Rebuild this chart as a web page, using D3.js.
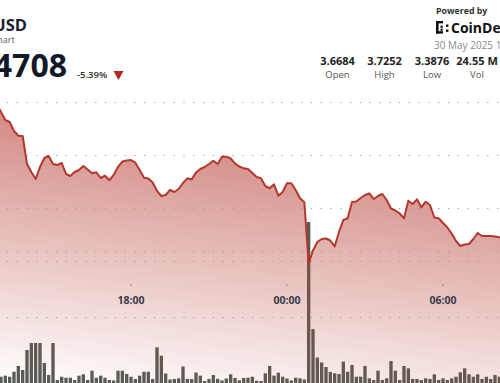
<!DOCTYPE html>
<html><head><meta charset="utf-8">
<script src="https://cdn.jsdelivr.net/npm/d3@7"></script>
<style>
html,body{margin:0;padding:0;background:#fff;overflow:hidden;}
svg{display:block;font-family:"Open Sans","Noto Sans",sans-serif;}
</style></head>
<body>
<svg id="c" width="500" height="383"></svg>
<script>
// ---- data ----
const priceStart = Date.UTC(2025, 4, 29, 12, 50); // first price point (10-min steps)
const volumeStart = Date.UTC(2025, 4, 29, 13, 0);  // first volume bar
const stepMinutes = 10;
const prices = [
3.6962,3.6811,3.6660,3.6623,3.6453,3.6364,3.6358,3.5830,3.5679,3.5547,3.5774,
3.5943,3.5981,3.5830,3.5811,3.5849,3.5642,3.5604,3.5679,3.5717,3.5792,
3.5726,3.5655,3.5674,3.5566,3.5609,3.5523,3.5623,3.5774,3.5877,3.5896,
3.5906,3.5855,3.5717,3.5572,3.5557,3.5481,3.5321,3.5226,3.5245,3.5340,
3.5302,3.5358,3.5472,3.5560,3.5538,3.5670,3.5736,3.5774,3.5830,3.5892,
3.5830,3.5968,3.5968,3.5934,3.5843,3.5783,3.5749,3.5736,3.5660,3.5585,
3.5560,3.5415,3.5372,3.5447,3.5232,3.5302,3.5466,3.5466,3.5340,3.5183,
3.5108,3.3953,3.4198,3.4358,3.4415,3.4425,3.4387,3.4274,3.4547,3.4774,
3.4806,3.5113,3.5123,3.5189,3.5245,3.5277,3.5170,3.5226,3.5264,3.5151,
3.4991,3.4953,3.4896,3.4806,3.5138,3.5075,3.5164,3.5013,3.5119,3.5057,
3.4821,3.4806,3.4717,3.4632,3.4519,3.4377,3.4283,3.4311,3.4321,3.4415,
3.4528,3.4472,3.4472,3.4472,3.4462,3.4447,3.4434];
const volumesK = [
95,111,95,171,258,197,500,606,606,606,
303,121,606,45,95,80,80,45,111,132,
45,186,80,111,80,45,38,186,186,136,
95,61,111,171,171,61,541,414,144,53,
61,71,250,61,61,159,111,30,61,121,
64,38,68,132,76,41,76,80,95,35,
30,147,258,111,156,95,68,38,80,71,
53,2439,818,386,311,242,167,147,136,323,
171,273,95,95,258,71,45,186,45,71,
333,186,45,258,223,61,61,45,71,61,
132,45,71,45,71,95,162,223,132,95,
132,61,95,61,121,95];
const priceTicks = [3.4, 3.5, 3.6, 3.7];
const volumeTicksK = [1000, 2000];
const stats = [["3.6684","Open"],["3.7252","High"],["3.3876","Low"],["24.55 M","Vol"]];

// ---- scales ----
const svg = d3.select("#c");
const x = d3.scaleUtc()
  .domain([Date.UTC(2025,4,29,13,0), Date.UTC(2025,4,30,6,0)])
  .range([1, 443]);
const y = d3.scaleLinear().domain([3.4, 3.7]).range([261, 102]);
const yv = d3.scaleLinear().domain([0, 2000]).range([383, 251]);
const step = stepMinutes * 60000;
const priceData = prices.map((p, i) => ({t: new Date(priceStart + i*step), p}));
const volData = volumesK.map((v, i) => ({t: new Date(volumeStart + i*step), v}));
const pitch = x(new Date(volumeStart + step)) - x(new Date(volumeStart));
const bw = pitch - 1;

// gradient
const defs = svg.append("defs");
const g = defs.append("linearGradient").attr("id","ag")
  .attr("gradientUnits","userSpaceOnUse")
  .attr("x1",250).attr("y1",90).attr("x2",210).attr("y2",410);
g.append("stop").attr("offset",0).attr("stop-color","rgb(182,62,52)").attr("stop-opacity",0.72);
g.append("stop").attr("offset",1).attr("stop-color","rgb(182,62,52)").attr("stop-opacity",0.0);

// volume bars
svg.append("g").selectAll("rect").data(volData).join("rect")
  .attr("x", d => x(d.t) - bw/2)
  .attr("y", d => yv(d.v))
  .attr("width", bw)
  .attr("height", d => yv(0) - yv(d.v))
  .attr("fill", "#575d55");

// area
const area = d3.area().x(d => x(d.t)).y0(383).y1(d => y(d.p));
svg.append("path").datum(priceData).attr("d", area).attr("fill","url(#ag)");

// dotted gridlines
const grid = svg.append("g").attr("stroke","#9c9c9c").attr("stroke-width",1.2).attr("stroke-dasharray","1.2 8.6");
priceTicks.forEach(v => {
  const yy = Math.round(y(v)) + 0.5;
  grid.append("line").attr("x1",7).attr("x2",500).attr("y1",yy).attr("y2",yy);
});
volumeTicksK.forEach(v => {
  const yy = Math.round(yv(v)) + 0.5;
  grid.append("line").attr("x1",7).attr("x2",500).attr("y1",yy).attr("y2",yy);
});

// price line
const line = d3.line().x(d => x(d.t)).y(d => y(d.p));
svg.append("path").datum(priceData).attr("d", line)
  .attr("fill","none").attr("stroke","#b3372c").attr("stroke-width",2).attr("stroke-linejoin","round");

// x axis labels
const ticks = x.ticks(d3.utcHour.every(6)).filter(t => x(t) > 20 && x(t) < 480);
const fmt = d3.utcFormat("%H:%M");
const xa = svg.append("g");
ticks.forEach(t => {
  xa.append("line").attr("x1",x(t)).attr("x2",x(t)).attr("y1",284.5).attr("y2",286)
    .attr("stroke","#777").attr("stroke-width",1);
  xa.append("text").attr("x",x(t)).attr("y",304).attr("text-anchor","middle")
    .attr("font-size",10.5).attr("font-weight",700).attr("fill","#363d4a").text(fmt(t));
});

// header left
svg.append("text").attr("x",27).attr("y",30.5).attr("text-anchor","end")
  .attr("font-size",16.5).attr("font-weight",700).attr("fill","#172033").text("USD");
svg.append("text").attr("x",15).attr("y",42.5).attr("text-anchor","end")
  .attr("font-size",9.5).attr("fill","#5a5f66").text("hart");
svg.append("text").attr("x",67).attr("y",76.5).attr("text-anchor","end")
  .attr("font-size",32).attr("font-weight",700).attr("fill","#111827").text("4708");
svg.append("text").attr("x",77).attr("y",78).attr("font-size",9.5).attr("font-weight",600)
  .attr("fill","#333").text("-5.39%");
svg.append("path").attr("d","M113.5,71 L123.5,71 L118.5,80 Z").attr("fill","#b3261e");

// header right
svg.append("text").attr("x",436).attr("y",13.5).attr("font-size",8.8).attr("font-weight",700)
  .attr("fill","#333").text("Powered by");
const logo = svg.append("g").attr("fill","#111");
[[436,21,2.6,12.6],[436,21,7,2.4],[436,31.2,7,2.4],[440.5,25.6,2.2,2.2],[440.5,28.6,2.2,2.2],[446,24.5,2.4,2.4],[446,29.5,2.4,2.4]]
  .forEach(r => logo.append("rect").attr("x",r[0]).attr("y",r[1]).attr("width",r[2]).attr("height",r[3]));
svg.append("text").attr("x",451).attr("y",33).attr("font-size",14).attr("font-weight",700)
  .attr("fill","#111").text("CoinDesk");
svg.append("text").attr("x",434).attr("y",48.5).attr("font-size",10).attr("fill","#8a8a8a")
  .text("30 May 2025 10");

const statX = [337.5, 384.5, 432, 477];
stats.forEach((s, i) => {
  svg.append("text").attr("x",statX[i]).attr("y",65).attr("text-anchor","middle")
    .attr("font-size",11).attr("font-weight",700).attr("fill","#222").text(s[0]);
  svg.append("text").attr("x",statX[i]).attr("y",77.5).attr("text-anchor","middle")
    .attr("font-size",9.5).attr("fill","#555").text(s[1]);
});
</script>
</body></html>
